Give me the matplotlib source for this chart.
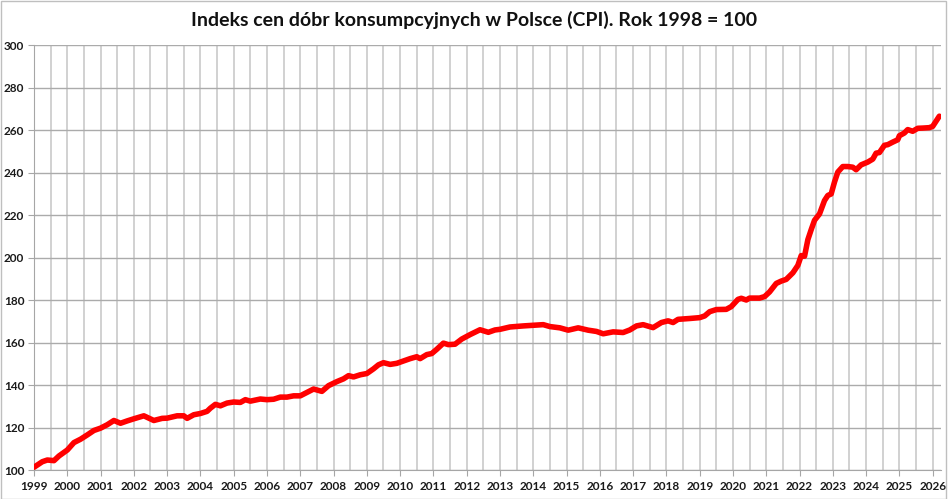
import matplotlib
matplotlib.use("Agg")
import matplotlib.pyplot as plt
import numpy as np

title = "Indeks cen dóbr konsumpcyjnych w Polsce (CPI). Rok 1998 = 100"

years = [1999.0, 1999.25, 1999.4, 1999.6, 1999.75, 2000.0, 2000.2, 2000.4, 2000.6, 2000.8,
         2001.0, 2001.2, 2001.4, 2001.6, 2001.8, 2002.0, 2002.3, 2002.6, 2002.85, 2003.0,
         2003.3, 2003.5, 2003.6, 2003.8, 2004.0, 2004.2, 2004.3, 2004.45, 2004.6, 2004.8,
         2005.0, 2005.2, 2005.35, 2005.5, 2005.8, 2006.0, 2006.2, 2006.4, 2006.6, 2006.8,
         2007.0, 2007.2, 2007.4, 2007.65, 2007.85, 2008.1, 2008.3, 2008.45, 2008.6, 2008.8,
         2009.0, 2009.2, 2009.35, 2009.5, 2009.7, 2009.9, 2010.1, 2010.3, 2010.5, 2010.6,
         2010.8, 2010.95, 2011.1, 2011.3, 2011.45, 2011.65, 2011.85, 2012.1, 2012.4, 2012.65,
         2012.85, 2013.0, 2013.3, 2013.7, 2014.0, 2014.3, 2014.5, 2014.8, 2015.05, 2015.35,
         2015.65, 2015.9, 2016.1, 2016.4, 2016.7, 2016.9, 2017.1, 2017.3, 2017.6, 2017.85,
         2018.05, 2018.2, 2018.35, 2018.7, 2019.0, 2019.15, 2019.3, 2019.5, 2019.8, 2019.95,
         2020.15, 2020.25, 2020.4, 2020.5, 2020.8, 2020.95, 2021.1, 2021.3, 2021.45, 2021.6,
         2021.8, 2021.95, 2022.05, 2022.15, 2022.25, 2022.35, 2022.45, 2022.6, 2022.75, 2022.85,
         2022.95, 2023.05, 2023.15, 2023.3, 2023.45, 2023.6, 2023.7, 2023.85, 2024.05, 2024.2,
         2024.3, 2024.4, 2024.55, 2024.65, 2024.8, 2024.95, 2025.0, 2025.15, 2025.25, 2025.4,
         2025.55, 2025.7, 2025.9, 2026.0, 2026.1, 2026.2]
cpi = [101.3, 103.9, 104.7, 104.4, 106.6, 109.4, 112.9, 114.5, 116.5, 118.6,
       119.7, 121.3, 123.3, 122.0, 123.1, 124.1, 125.5, 123.3, 124.3, 124.4,
       125.5, 125.5, 124.3, 126.0, 126.6, 127.6, 129.1, 130.9, 130.2, 131.5,
       132.0, 131.8, 133.1, 132.4, 133.4, 133.1, 133.3, 134.3, 134.3, 134.9,
       134.9, 136.5, 138.1, 137.0, 139.7, 141.6, 142.9, 144.4, 143.8, 144.8,
       145.4, 147.6, 149.5, 150.5, 149.7, 150.2, 151.3, 152.4, 153.3, 152.4,
       154.3, 154.8, 156.8, 159.7, 159.0, 159.2, 161.6, 163.7, 166.0, 164.8,
       165.9, 166.2, 167.3, 167.8, 168.1, 168.4, 167.5, 166.9, 165.8, 166.9,
       165.8, 165.2, 164.1, 165.0, 164.7, 165.9, 167.8, 168.4, 167.0, 169.4,
       170.2, 169.4, 170.9, 171.3, 171.7, 172.5, 174.5, 175.5, 175.6, 176.9,
       180.3, 180.8, 180.0, 180.9, 180.9, 181.6, 183.8, 187.8, 188.9, 189.7,
       192.8, 196.3, 200.9, 200.6, 208.4, 213.1, 217.5, 220.5, 226.8, 229.2,
       229.9, 235.5, 240.2, 242.8, 242.8, 242.5, 241.3, 243.6, 244.9, 246.3,
       249.1, 249.4, 252.8, 253.1, 254.3, 255.4, 257.3, 258.6, 260.2, 259.4,
       260.8, 260.9, 261.1, 261.7, 264.1, 266.5]

year_ticks = list(range(1999, 2027))

plt.rcParams['font.family'] = ['Lato', 'DejaVu Sans']

fig = plt.figure(figsize=(9.48, 4.99), dpi=100)
ax = fig.add_axes([34/948, 1-470/499, (941-34)/948, (470-45)/499])

ax.plot(years, cpi, color='#FF0000', lw=4.0, solid_joinstyle='round', solid_capstyle='round', zorder=3)

ax.set_xlim(1999, 2026.25)
ax.set_ylim(100, 300)
ax.set_yticks(range(100, 301, 20))
ax.set_xticks(year_ticks)
ax.set_xticklabels([str(y) for y in year_ticks])
ax.set_xticks(np.arange(1999.5, 2026.1, 1.0), minor=True)

ax.grid(True, which='major', axis='y', color='#ABABAB', lw=1.0)
ax.grid(True, which='major', axis='x', color='#CACACA', lw=1.2)
ax.grid(True, which='minor', axis='x', color='#CACACA', lw=1.2)
ax.set_axisbelow(True)

for s in ['top', 'right']:
    ax.spines[s].set_visible(False)
ax.spines['left'].set_color('#A6A6A6')
ax.spines['bottom'].set_color('#A6A6A6')
ax.tick_params(axis='x', which='major', length=4, color='#A6A6A6', pad=4, labelsize=8.5)
ax.tick_params(axis='x', which='minor', length=0)
ax.tick_params(axis='y', length=4, color='#A6A6A6', pad=3, labelsize=8.5)
for lab in ax.get_xticklabels() + ax.get_yticklabels():
    lab.set_fontweight('bold')
    lab.set_color('#1a1a1a')

fig.text(0.5, 1-20/499, title, ha='center', va='center', fontsize=14, fontweight='bold', color='#111111')

border = plt.Rectangle((0.001, 0.001), 0.997, 0.997, transform=fig.transFigure, fill=False,
                       edgecolor='#BFBFBF', lw=1.0)
fig.patches.append(border)

fig.savefig('out.png', dpi=100)
